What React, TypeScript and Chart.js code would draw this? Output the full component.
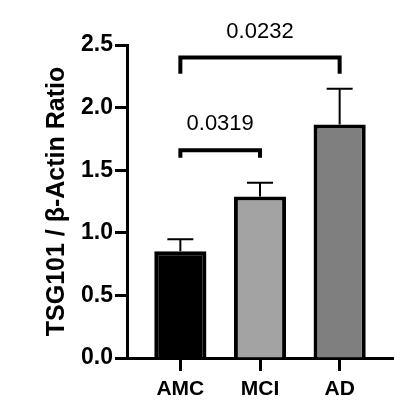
import React, { useEffect, useRef } from "react";
import { Chart, registerables } from "chart.js";

Chart.register(...registerables);

const categories = ["AMC", "MCI", "AD"];
const means = [0.853, 1.29, 1.866];
const sems = [0.096, 0.11, 0.284];
const fills = ["#000000", "#a3a3a3", "#7f7f7f"];
const yTickValues = [0, 0.5, 1, 1.5, 2, 2.5];
const compFrom = [0, 0];
const compTo = [1, 2];
const compLabels = ["0.0319", "0.0232"];
const compY = [1.66, 2.4];
const compDrop = [0.06, 0.13];

const FONT = "'Liberation Sans', Arial, Helvetica, sans-serif";

const overlayPlugin = {
  id: "overlay",
  afterDatasetsDraw(chart: any) {
    const { ctx, scales } = chart;
    const x = scales.x;
    const y = scales.y;
    ctx.save();
    ctx.strokeStyle = "#000";
    ctx.lineWidth = 2;
    means.forEach((m, i) => {
      const px = x.getPixelForValue(i);
      const top = y.getPixelForValue(m + sems[i]);
      const base = y.getPixelForValue(m);
      ctx.beginPath();
      ctx.moveTo(px, base);
      ctx.lineTo(px, top);
      ctx.moveTo(px - 13, top);
      ctx.lineTo(px + 13, top);
      ctx.stroke();
    });
    ctx.lineWidth = 4;
    ctx.lineCap = "butt";
    ctx.lineJoin = "miter";
    compLabels.forEach((lab, i) => {
      const x1 = x.getPixelForValue(compFrom[i]);
      const x2 = x.getPixelForValue(compTo[i]);
      const yt = y.getPixelForValue(compY[i]);
      const yb = y.getPixelForValue(compY[i] - compDrop[i]);
      ctx.beginPath();
      ctx.moveTo(x1, yb);
      ctx.lineTo(x1, yt);
      ctx.lineTo(x2, yt);
      ctx.lineTo(x2, yb);
      ctx.stroke();
      ctx.fillStyle = "#000";
      ctx.font = `22px ${FONT}`;
      ctx.textAlign = "center";
      ctx.textBaseline = "middle";
      ctx.fillText(lab, (x1 + x2) / 2, yt - 26);
    });
    ctx.restore();
  },
};

export default function App() {
  const ref = useRef<HTMLCanvasElement>(null);
  useEffect(() => {
    if (!ref.current) return;
    const chart = new Chart(ref.current, {
      type: "bar",
      data: {
        datasets: [
          {
            data: means.map((m, i) => ({ x: i, y: m })),
            backgroundColor: fills,
            borderColor: "#000",
            borderWidth: 4,
            categoryPercentage: 1,
            barPercentage: 0.655,
          },
        ],
      },
      options: {
        responsive: false,
        animation: false,
        maintainAspectRatio: false,
        layout: { padding: { top: 45, right: 2, left: 0, bottom: 0 } },
        plugins: { legend: { display: false }, tooltip: { enabled: false } },
        scales: {
          x: {
            type: "linear",
            offset: false,
            min: -0.67,
            max: 2.67,
            afterBuildTicks(scale: any) {
              scale.ticks = categories.map((_, i) => ({ value: i }));
            },
            afterFit(scale: any) {
              scale.height = 52;
            },
            border: { display: true, color: "#000", width: 3 },
            grid: {
              display: true,
              offset: false,
              drawOnChartArea: false,
              drawTicks: true,
              tickLength: 13,
              tickWidth: 3,
              tickColor: "#000",
            },
            ticks: {
              autoSkip: false,
              maxRotation: 0,
              padding: 6,
              color: "#000",
              font: { family: FONT, size: 21, weight: "bold" },
              callback: (v: any) => categories[v as number] ?? "",
            },
          },
          y: {
            min: 0,
            max: 2.5,
            afterBuildTicks(scale: any) {
              scale.ticks = yTickValues.map((v) => ({ value: v }));
            },
            afterFit(scale: any) {
              scale.width = 127;
            },
            border: { display: true, color: "#000", width: 3 },
            grid: {
              display: true,
              drawOnChartArea: false,
              drawTicks: true,
              tickLength: 12,
              tickWidth: 3,
              tickColor: "#000",
            },
            ticks: {
              padding: 2,
              color: "#000",
              font: { family: FONT, size: 23, weight: "bold" },
              callback: (v: any) => Number(v).toFixed(1),
            },
            title: {
              display: true,
              text: "TSG101 / β-Actin Ratio",
              color: "#000",
              font: { family: FONT, size: 25, weight: "bold" },
              padding: { top: 42, bottom: 0 },
            },
          },
        },
      },
      plugins: [overlayPlugin],
    });
    return () => chart.destroy();
  }, []);
  return (
    <div style={{ position: "fixed", left: 0, top: 0, width: 395, height: 410, background: "#fff" }}>
      <canvas ref={ref} width={395} height={410} style={{ width: 395, height: 410 }} />
    </div>
  );
}
